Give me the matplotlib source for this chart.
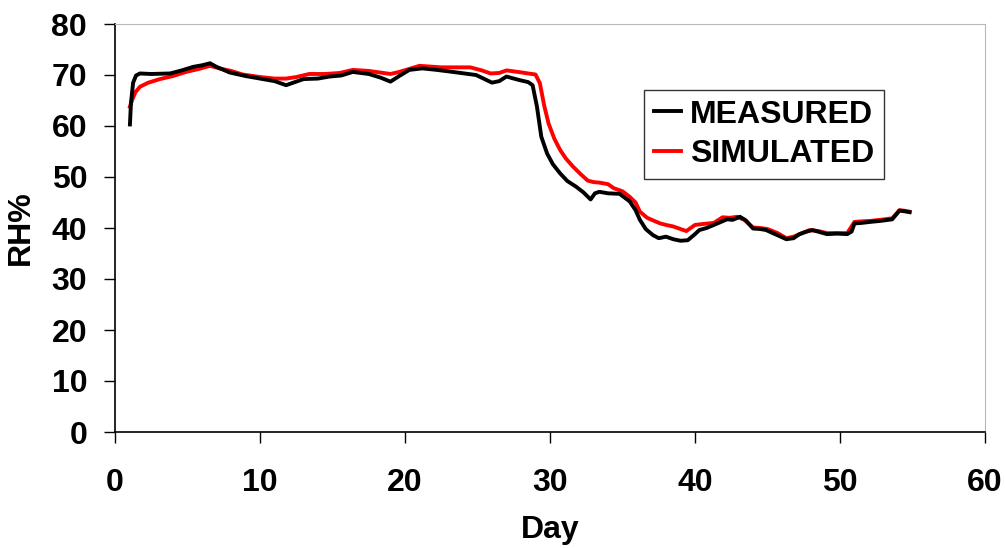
import matplotlib
matplotlib.use("Agg")
import matplotlib.pyplot as plt

day_measured = [1.03, 1.1, 1.25, 1.45, 1.72, 2.5, 3.8, 4.6, 5.4, 6.0, 6.55, 7.0, 7.9, 9.0, 10.0, 11.0, 11.8,
                12.4, 13.0, 14.0, 14.8, 15.6, 16.4, 17.5, 18.3, 19.0, 19.6, 20.3, 21.2, 22.2, 23.3, 24.9,
                26.0, 26.5, 27.0, 27.5, 27.9, 28.5, 28.8, 29.1, 29.4, 29.8, 30.2, 30.7, 31.2, 31.8, 32.3,
                32.8, 33.1, 33.4, 34.0, 34.8, 35.5, 35.9, 36.2, 36.6, 37.1, 37.5, 38.0, 38.5, 39.0, 39.5,
                40.0, 40.3, 40.8, 41.3, 41.8, 42.2, 42.6, 43.1, 43.5, 44.0, 44.5, 44.9, 45.6, 46.3, 46.8,
                47.2, 47.6, 48.1, 48.6, 49.1, 49.8, 50.5, 50.8, 51.0, 51.5, 52.1, 52.8, 53.6, 54.1, 54.4,
                54.8]
rh_measured = [60.3, 64.5, 68.5, 69.9, 70.3, 70.2, 70.3, 70.9, 71.6, 71.9, 72.3, 71.6, 70.5, 69.8, 69.3, 68.8, 68.0,
               68.6, 69.2, 69.3, 69.7, 69.9, 70.6, 70.2, 69.5, 68.7, 69.8, 71.0, 71.3, 71.0, 70.6, 70.0,
               68.5, 68.8, 69.7, 69.3, 69.0, 68.6, 68.0, 63.8, 57.9, 54.6, 52.5, 50.7, 49.2, 48.1, 47.0,
               45.6, 46.8, 47.1, 46.8, 46.7, 45.2, 43.5, 41.6, 39.8, 38.6, 38.0, 38.3, 37.8, 37.5, 37.6,
               38.8, 39.6, 40.0, 40.6, 41.2, 41.7, 41.6, 42.2, 41.5, 39.9, 39.8, 39.6, 38.7, 37.8, 38.0,
               38.8, 39.2, 39.6, 39.2, 38.8, 38.9, 38.8, 39.3, 40.9, 41.0, 41.2, 41.4, 41.7, 43.4, 43.3,
               43.1]

day_simulated = [1.03, 1.2, 1.4, 1.72, 2.3, 3.1, 4.0, 4.9, 5.8, 6.55, 7.2, 8.0, 8.8, 10.0, 11.0, 11.8, 12.5,
                 13.4, 14.5, 15.5, 16.4, 17.5, 18.5, 19.0, 19.6, 20.3, 21.0, 22.5, 24.5, 25.3, 25.9, 26.5,
                 27.0, 27.8, 28.5, 29.0, 29.3, 29.6, 29.9, 30.3, 30.7, 31.1, 31.6, 32.1, 32.6, 33.0, 33.4,
                 34.0, 34.4, 35.0, 35.5, 35.9, 36.2, 36.7, 37.1, 37.6, 38.0, 38.5, 39.0, 39.4, 40.0, 40.6,
                 41.3, 41.9, 42.4, 42.9, 43.4, 44.0, 44.5, 45.0, 45.7, 46.3, 46.8, 47.4, 47.9, 48.5, 49.1,
                 49.8, 50.5, 51.0, 51.5, 52.1, 52.8, 53.6, 54.1, 54.4, 54.8]
rh_simulated = [63.8, 65.2, 66.6, 67.7, 68.5, 69.2, 69.8, 70.6, 71.2, 71.8, 71.3, 70.8, 70.1, 69.6, 69.3, 69.3, 69.6,
                70.2, 70.2, 70.4, 71.0, 70.8, 70.4, 70.2, 70.6, 71.2, 71.8, 71.5, 71.5, 70.9, 70.3, 70.4,
                70.9, 70.6, 70.3, 70.1, 68.4, 64.0, 60.5, 57.5, 55.3, 53.6, 52.0, 50.6, 49.3, 49.0, 48.9,
                48.6, 47.8, 47.2, 46.1, 45.0, 43.2, 42.0, 41.5, 40.9, 40.6, 40.3, 39.8, 39.4, 40.6, 40.8,
                41.0, 42.1, 42.0, 42.2, 41.6, 40.1, 40.0, 39.8, 39.0, 38.0, 38.3, 39.0, 39.6, 39.4, 39.0,
                39.0, 39.0, 41.2, 41.3, 41.4, 41.6, 41.9, 43.5, 43.4, 43.2]

x_ticks = [0, 10, 20, 30, 40, 50, 60]
y_ticks = [0, 10, 20, 30, 40, 50, 60, 70, 80]

plt.rcParams['font.family'] = ['Liberation Sans', 'DejaVu Sans']
plt.rcParams['font.weight'] = 'bold'

FS = 23

fig = plt.figure(figsize=(10.05, 5.48), dpi=100)
ax = fig.add_axes([115/1005, 1 - 432/548, 870/1005, 408/548])

ax.plot(day_measured, rh_measured, color='black', lw=2.8, label='MEASURED', zorder=3)
ax.plot(day_simulated, rh_simulated, color='#ff0000', lw=2.8, label='SIMULATED', zorder=2)

ax.set_xlim(0, 60)
ax.set_ylim(0, 80)
ax.set_xticks(x_ticks)
ax.set_yticks(y_ticks)
ax.tick_params(axis='y', direction='out', length=8, width=1, pad=12, labelsize=FS)
ax.tick_params(axis='x', direction='out', length=8, width=1, pad=18, labelsize=FS)
for lab in ax.get_xticklabels() + ax.get_yticklabels():
    lab.set_fontweight('bold')

for s in ['left', 'bottom']:
    ax.spines[s].set_color('black')
    ax.spines[s].set_linewidth(1.2)
for s in ['top', 'right']:
    ax.spines[s].set_color('#b8b8b8')
    ax.spines[s].set_linewidth(0.8)

ax.set_xlabel('Day', fontsize=FS, fontweight='bold', labelpad=12)
ax.set_ylabel('RH%', fontsize=FS, fontweight='bold', labelpad=11)

leg = ax.legend(loc='upper left', bbox_to_anchor=((644-115)/870, (432-90)/408),
                frameon=True, fancybox=False, edgecolor='black', fontsize=FS,
                handlelength=0.85, handletextpad=0.3, borderpad=0.3, labelspacing=0.3,
                borderaxespad=0)
leg.get_frame().set_linewidth(1.0)
for t in leg.get_texts():
    t.set_fontweight('bold')

fig.savefig('out.png', dpi=100)
